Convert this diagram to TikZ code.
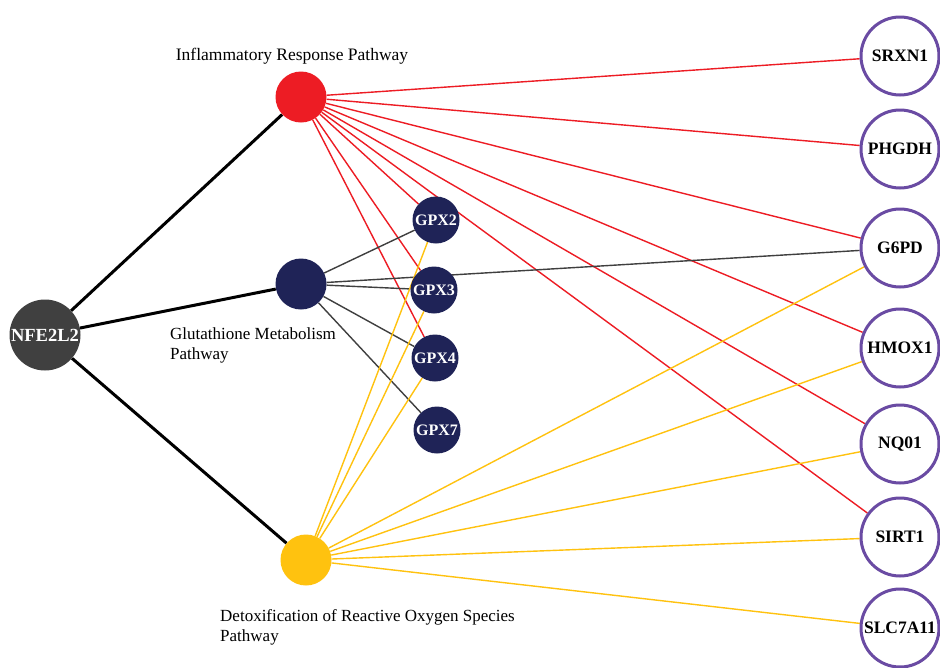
\documentclass[tikz,border=0pt]{standalone}
\usepackage{fontspec}
\setmainfont{Liberation Serif}
\usetikzlibrary{backgrounds}
\definecolor{cred}{HTML}{ED1C24}
\definecolor{cnavy}{HTML}{1F2357}
\definecolor{cyel}{HTML}{FFC20F}
\definecolor{cpurple}{HTML}{6A4BA3}
\definecolor{cgray}{HTML}{404040}
\definecolor{cdark}{HTML}{3F3F3F}
\begin{document}
\begin{tikzpicture}[x=1pt,y=-1pt,
  hub/.style={circle,minimum size=51pt,inner sep=0pt},
  root/.style={circle,fill=cgray,minimum size=71pt,inner sep=0pt,text=white,font=\bfseries\fontsize{18.5}{18.5}\selectfont},
  gpx/.style={circle,fill=cnavy,minimum size=47pt,inner sep=0pt,text=white,font=\bfseries\fontsize{16}{16}\selectfont},
  gene/.style={circle,draw=cpurple,line width=3pt,fill=white,minimum size=78pt,inner sep=0pt,font=\bfseries\fontsize{17.5}{17.5}\selectfont},
  lab/.style={font=\fontsize{17}{20}\selectfont,align=left,inner sep=0pt},
  main/.style={black,line width=3pt},
  redl/.style={cred,line width=1.4pt},
  grayl/.style={cdark,line width=1.4pt},
  yell/.style={cyel,line width=1.4pt}]
\useasboundingbox (0,0) rectangle (940,667);

\node[root] (nfe) at (45,335) {NFE2L2};
\node[hub,fill=cred] (inf) at (301,97) {};
\node[hub,fill=cnavy] (glu) at (301,284) {};
\node[hub,fill=cyel] (det) at (306,560) {};

\node[gpx] (gpx2) at (436,220) {GPX2};
\node[gpx] (gpx3) at (434,290) {GPX3};
\node[gpx] (gpx4) at (435,358) {GPX4};
\node[gpx] (gpx7) at (437,430) {GPX7};

\node[gene] (srxn1) at (900,56) {SRXN1};
\node[gene] (phgdh) at (900,149) {PHGDH};
\node[gene] (g6pd) at (900,248) {G6PD};
\node[gene] (hmox1) at (900,348) {HMOX1};
\node[gene] (nq01) at (900,444) {NQ01};
\node[gene] (sirt1) at (900,537) {SIRT1};
\node[gene] (slc) at (900,628) {SLC7A11};

\node[lab,font=\fontsize{17.5}{20}\selectfont] (linf) at (292,56) {Inflammatory Response Pathway};
\node[lab,anchor=north west] (lglu) at (170,327) {Glutathione Metabolism\\Pathway};
\node[lab,anchor=north west] (ldet) at (220,609) {Detoxification of Reactive Oxygen Species\\Pathway};

\begin{pgfonlayer}{background}
\fill[white] (0,0) rectangle (940,667);
\draw[main] (nfe) -- (inf);
\draw[main] (nfe) -- (glu);
\draw[main] (nfe) -- (det);
\foreach \t in {srxn1,phgdh,g6pd,hmox1,nq01,sirt1,gpx2,gpx3,gpx4}
  \draw[redl] (inf) -- (\t);
\foreach \t in {gpx2,gpx3,gpx4,gpx7,g6pd}
  \draw[grayl] (glu) -- (\t);
\foreach \t in {gpx2,gpx3,gpx4,g6pd,hmox1,nq01,sirt1,slc}
  \draw[yell] (det) -- (\t);
\end{pgfonlayer}
\end{tikzpicture}
\end{document}
